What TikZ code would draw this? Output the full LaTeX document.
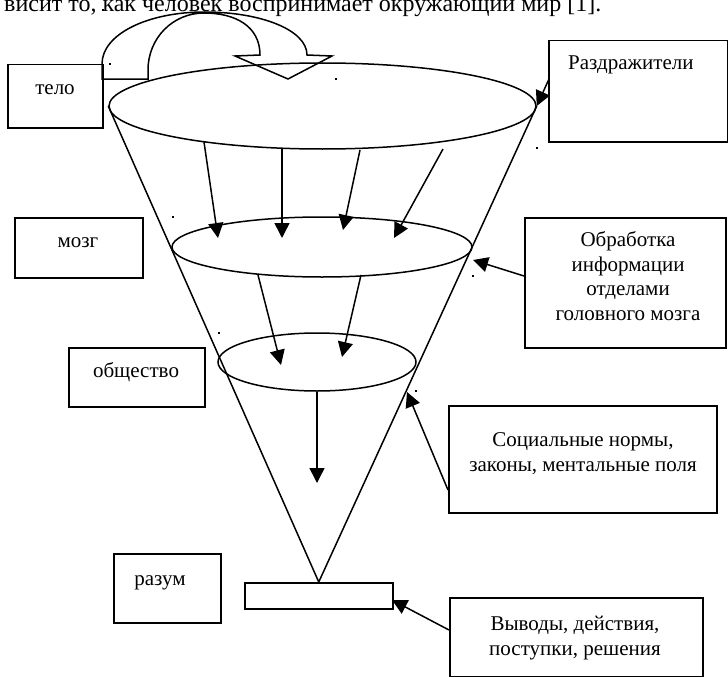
\documentclass[tikz,border=0pt]{standalone}
\usepackage{fontspec}
\setmainfont{Liberation Serif}
\usetikzlibrary{arrows.meta,shapes.geometric}
\begin{document}
\begin{tikzpicture}[x=1pt,y=-1pt,
  box/.style={draw,line width=1.5pt,inner sep=0pt,anchor=north west},
  ell/.style={draw,ellipse,line width=1.5pt,inner sep=0pt},
  lbl/.style={font=\fontsize{21}{24.5}\selectfont,inner sep=0pt},
  arr/.style={line width=1.5pt,-{Triangle[length=15pt,width=15pt]}},
  ln/.style={line width=1.5pt},
  dotm/.style={fill,inner sep=0pt,minimum size=2pt}]
\useasboundingbox (0,0) rectangle (728,677);
\clip (0,0) rectangle (728,677);

% top page text (cut)
\node[anchor=base west,inner sep=0pt,font=\fontsize{24}{30}\selectfont] (toptext) at (4,12) {висит то, как  человек воспринимает окружающий мир [1].};

% boxes
\node[box,minimum width=95pt,minimum height=63pt] (telo) at (7,64) {};
\node[box,minimum width=179pt,minimum height=101pt] (razd) at (548,40) {};
\node[box,minimum width=128pt,minimum height=60pt] (mozg) at (14,217) {};
\node[box,minimum width=136pt,minimum height=59pt] (obsh) at (68,347) {};
\node[box,minimum width=201pt,minimum height=130pt] (obr) at (524,217) {};
\node[box,minimum width=268pt,minimum height=107pt] (soc) at (448,405) {};
\node[box,minimum width=107pt,minimum height=69pt] (razum) at (113,553) {};
\node[box,minimum width=148pt,minimum height=26pt] (res) at (244,582) {};
\node[box,minimum width=253pt,minimum height=79pt] (vyv) at (449,597) {};

% labels (base anchor = baseline of the last line)
\node[lbl,anchor=base] (telo-t) at (55,94) {тело};
\node[lbl,anchor=base west] (razd-t) at (568,70) {Раздражители};
\node[lbl,anchor=base] (mozg-t) at (78,247) {мозг};
\node[lbl,anchor=base] (obsh-t) at (136,377) {общество};
\node[lbl,anchor=base,align=center] (obr-t) at (628,320) {Обработка\\информации\\отделами\\головного мозга};
\node[lbl,anchor=base,align=center] (soc-t) at (583,471) {Социальные нормы,\\законы, ментальные поля};
\node[lbl,anchor=base] (razum-t) at (160,585) {разум};
\node[lbl,anchor=base,align=center] (vyv-t) at (575,655) {Выводы, действия,\\поступки, решения};

% ellipses
\node[ell,minimum width=427pt,minimum height=86pt] (E1) at (322.5,106) {};
\node[ell,minimum width=300pt,minimum height=60pt] (E2) at (322,247) {};
\node[ell,minimum width=198pt,minimum height=58pt] (E3) at (317,362) {};

% cone
\draw[ln] (E1.west) -- (res.north) -- (E1.east);

% curved block arrow
\draw[ln,line join=miter] (102,79) -- (102,64)
  .. controls (102,34) and (148,12) .. (204.5,12)
  .. controls (261,12) and (307,30) .. (307,55)
  -- (332,56) -- (288,79) -- (235,56) -- (260,55)
  .. controls (260,26) and (235,13) .. (204,13)
  .. controls (173,13) and (148,38) .. (148,70)
  -- (148,79) -- cycle;

% coordinates of connector ends
\coordinate (a1s) at (204,142); \coordinate (a1e) at (218,238);
\coordinate (a2s) at (282,149); \coordinate (a2e) at (282,238);
\coordinate (a3s) at (360,150); \coordinate (a3e) at (343,230);
\coordinate (a4s) at (443,149); \coordinate (a4e) at (394,238);
\coordinate (b1s) at (258,275); \coordinate (b1e) at (281,365);
\coordinate (b2s) at (361,275); \coordinate (b2e) at (342,357);
\coordinate (c1e) at (317,483);
\coordinate (rzs) at (549,79);
\coordinate (obs) at (524,276); \coordinate (obe) at (473,260);
\coordinate (scs) at (448,490); \coordinate (sce) at (407,392);
\coordinate (vvs) at (449,630); \coordinate (vve) at (392,600);

\draw[arr] (a1s) -- (a1e);
\draw[arr] (a2s) -- (a2e);
\draw[arr] (a3s) -- (a3e);
\draw[arr] (a4s) -- (a4e);
\draw[arr] (b1s) -- (b1e);
\draw[arr] (b2s) -- (b2e);
\draw[arr] (E3.south) -- (c1e);
\draw[arr] (rzs) -- (E1.east);
\draw[arr] (obs) -- (obe);
\draw[arr] (scs) -- (sce);
\draw[arr] (vvs) -- (vve);

% stray dots
\foreach \p [count=\i] in {(103,10),(110,64),(336,79),(537,148),(173,217),(473,276),(219,333),(416,391)}
  \node[dotm] (d\i) at \p {};
\end{tikzpicture}
\end{document}
